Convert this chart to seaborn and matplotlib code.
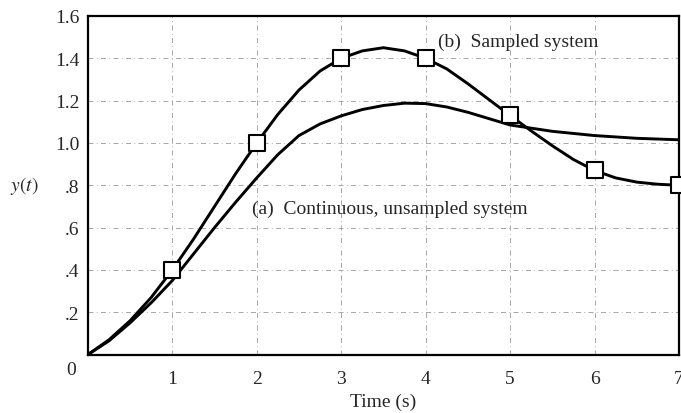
import numpy as np
import pandas as pd
import matplotlib
matplotlib.use("Agg")
import matplotlib.pyplot as plt
import seaborn as sns

# values
t_cont = [0, 0.25, 0.5, 0.75, 1.0, 1.25, 1.5, 1.75, 2.0, 2.25, 2.5, 2.75, 3.0,
          3.25, 3.5, 3.75, 4.0, 4.25, 4.5, 4.75, 5.0, 5.5, 6.0, 6.5, 7.0]
y_cont = [0, 0.065, 0.15, 0.245, 0.35, 0.475, 0.60, 0.72, 0.835, 0.945, 1.035, 1.09, 1.128,
          1.158, 1.177, 1.188, 1.186, 1.17, 1.145, 1.115, 1.085, 1.055, 1.035, 1.022, 1.015]

t_samp = [0, 0.25, 0.5, 0.75, 1.0, 1.25, 1.5, 1.75, 2.0, 2.25, 2.5, 2.75, 3.0, 3.25,
          3.5, 3.75, 4.0, 4.25, 4.5, 4.75, 5.0, 5.25, 5.5, 5.75, 6.0, 6.25, 6.5, 6.75, 7.0]
y_samp = [0, 0.07, 0.16, 0.27, 0.40, 0.545, 0.70, 0.855, 1.00, 1.135, 1.25, 1.34, 1.40, 1.435,
          1.45, 1.435, 1.40, 1.35, 1.28, 1.205, 1.13, 1.057, 0.987, 0.922, 0.87, 0.835, 0.815, 0.805, 0.80]

t_pts = [1, 2, 3, 4, 5, 6, 7]
y_pts = [0.40, 1.00, 1.40, 1.40, 1.13, 0.87, 0.80]

x_ticks = [1, 2, 3, 4, 5, 6, 7]
y_ticks = [0.2, 0.4, 0.6, 0.8, 1.0, 1.2, 1.4, 1.6]
y_tick_labels = [".2", ".4", ".6", ".8", "1.0", "1.2", "1.4", "1.6"]

label_a = "(a)  Continuous, unsampled system"
label_b = "(b)  Sampled system"

sns.set_style("white")
plt.rcParams['font.family'] = ['Liberation Serif', 'DejaVu Serif']
plt.rcParams['mathtext.fontset'] = 'stix'

fig = plt.figure(figsize=(6.81, 4.14), dpi=100)
ax = fig.add_axes([0.129, 0.141, 0.868, 0.818])

cont = pd.DataFrame({"t": t_cont, "y": y_cont})
samp = pd.DataFrame({"t": t_samp, "y": y_samp})
pts = pd.DataFrame({"t": t_pts, "y": y_pts})

sns.lineplot(data=cont, x="t", y="y", ax=ax, color="black", linewidth=2.1)
sns.lineplot(data=samp, x="t", y="y", ax=ax, color="black", linewidth=2.1)
sns.scatterplot(data=pts, x="t", y="y", ax=ax, marker="s", s=145, color="white",
                edgecolor="black", linewidth=1.5, zorder=5, clip_on=False)

ax.set_xlim(0, 7)
ax.set_ylim(0, 1.6)
ax.set_xticks(x_ticks)
ax.set_xticklabels([str(v) for v in x_ticks])
ax.set_yticks(y_ticks)
ax.set_yticklabels(y_tick_labels)
ax.tick_params(length=0, labelsize=14)
ax.tick_params(axis="x", pad=11)
ax.tick_params(axis="y", pad=6)
ax.grid(True, color="#999999", linestyle=(0, (6, 4, 1, 4)), linewidth=0.6)

for s in ax.spines.values():
    s.set_visible(True)
    s.set_color("black")
    s.set_linewidth(1.6)

ax.set_xlabel("Time (s)", fontsize=14, labelpad=4)
ax.set_ylabel("")
ax.text(-0.084, 0.8, "$y(t)$", transform=ax.get_yaxis_transform(), ha="right",
        va="center", fontsize=14)
ax.annotate("0", xy=(0, 0), xytext=(-12, -11), textcoords="offset points",
            ha="center", va="center", fontsize=14)

ax.text(1.94, 0.69, label_a, ha="left", va="center", fontsize=14)
ax.text(4.15, 1.48, label_b, ha="left", va="center", fontsize=14)

fig.savefig("out.png", dpi=100)
